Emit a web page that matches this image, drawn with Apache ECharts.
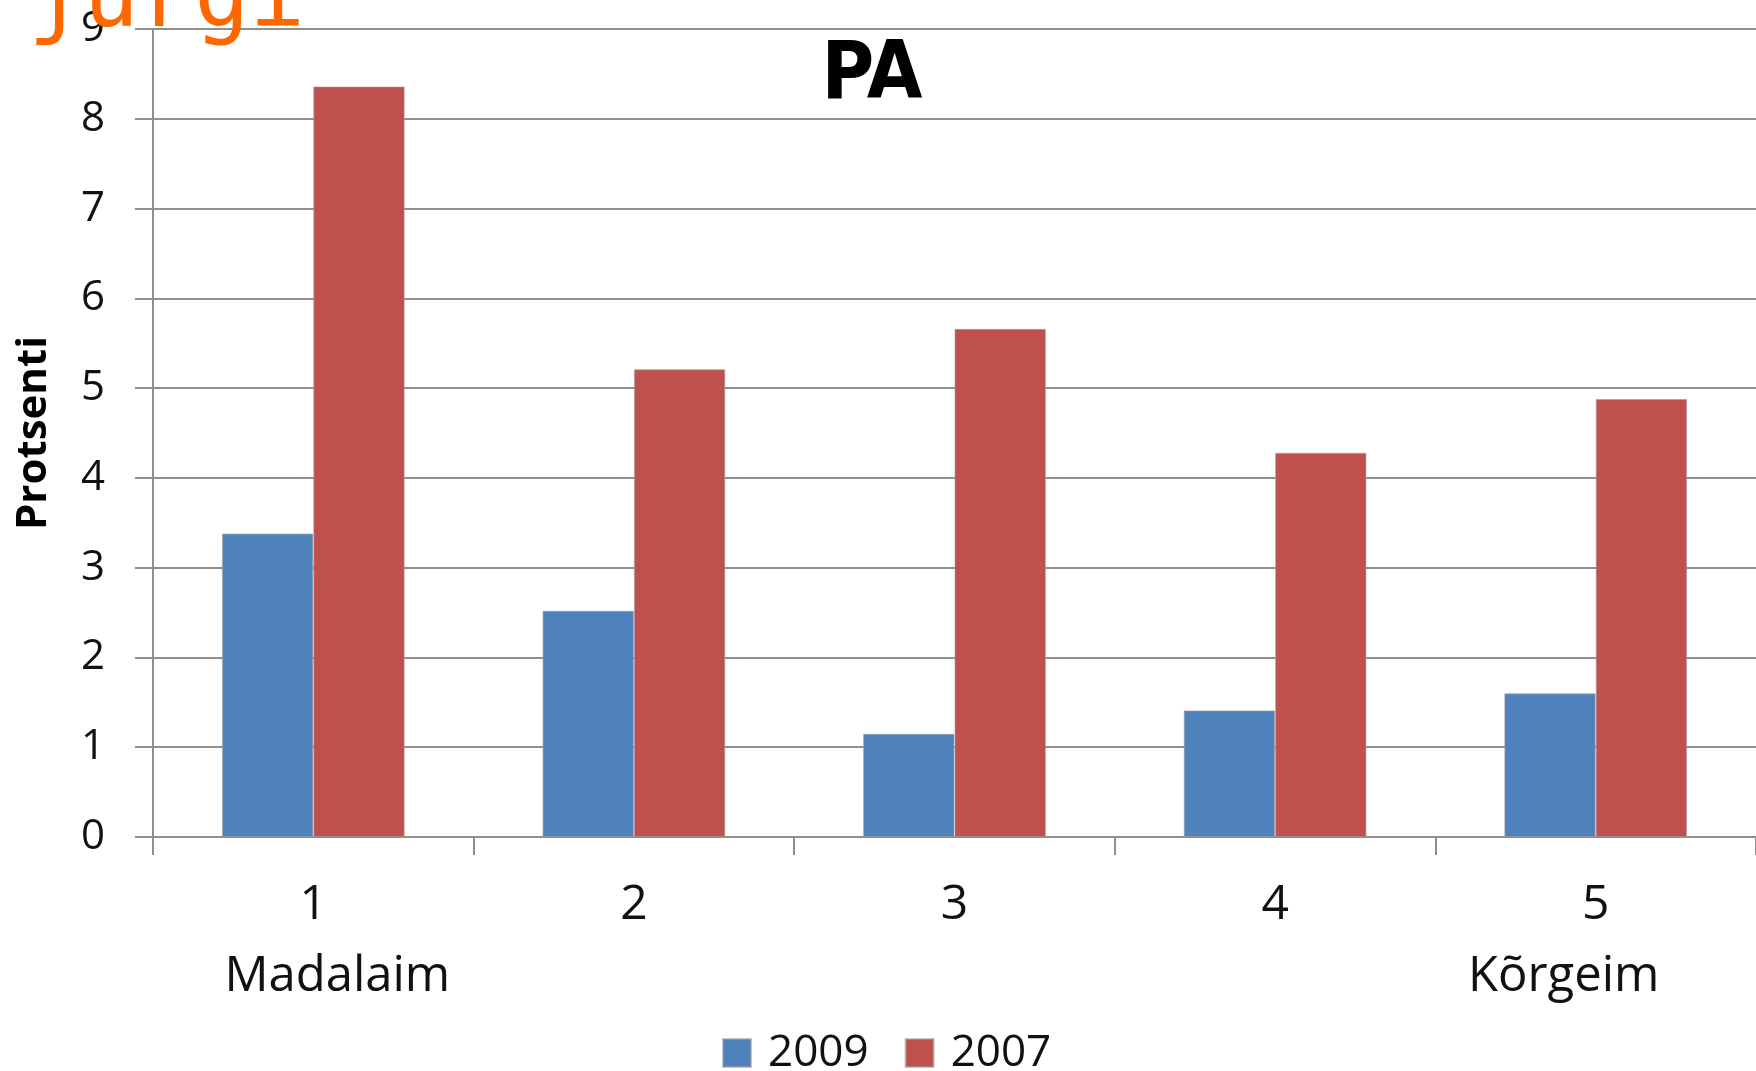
<!DOCTYPE html>
<html>
<head>
<meta charset="utf-8">
<script src="https://cdn.jsdelivr.net/npm/echarts@6/dist/echarts.min.js"></script>
<style>
  html, body { margin: 0; padding: 0; background: #fff; }
  #chart { width: 1756px; height: 1071px; }
</style>
</head>
<body>
<div id="chart"></div>
<script>
const categories = ["1", "2", "3", "4", "5"];
const bottomNotes = ["Madalaim", "", "", "", "Kõrgeim"];
const values2009 = [3.38, 2.52, 1.15, 1.41, 1.6];
const values2007 = [8.36, 5.21, 5.66, 4.28, 4.88];
const yTicks = [0, 1, 2, 3, 4, 5, 6, 7, 8, 9];

const gridColor = "#8e8e8e";
const labelFont = "'Open Sans', 'Noto Sans', sans-serif";

let chart = echarts.init(document.getElementById("chart"));

const option = {
  animation: false,
  title: {
    text: "PA",
    left: 867,
    top: 32,
    textAlign: "center",
    textStyle: {
      fontFamily: "'DejaVu Sans Condensed', 'Liberation Sans', sans-serif",
      fontWeight: "bold",
      fontSize: 80,
      color: "#000",
    },
  },
  graphic: [
    {
      type: "text",
      left: 28,
      top: -44,
      z: 100,
      style: {
        text: "jürgi",
        font: "92px 'DejaVu Sans Mono'",
        fill: "#FF6600",
      },
    },
  ],
  legend: {
    data: ["2009", "2007"],
    left: 717,
    top: 1026,
    itemWidth: 28,
    itemHeight: 28,
    itemGap: 36,
    icon: "rect",
    textStyle: {
      fontFamily: labelFont,
      fontSize: 44,
      color: "#111",
      padding: [0, 0, 0, 12],
    },
  },
  grid: {
    left: 153,
    right: -3,
    top: 29,
    bottom: 234,
    containLabel: false,
  },
  xAxis: {
    type: "category",
    data: categories,
    axisLine: { lineStyle: { color: gridColor, width: 2 } },
    axisTick: { show: true, interval: 0, length: 18, lineStyle: { color: gridColor, width: 2 } },
    axisLabel: {
      interval: 0,
      margin: 32,
      color: "#111",
      fontFamily: labelFont,
      fontSize: 48,
      lineHeight: 72,
      formatter: (val, idx) => {
        const note = bottomNotes[idx];
        if (!note) return val;
        return val + "\n{" + (idx === 0 ? "l" : "r") + "|" + note + "}";
      },
      rich: {
        l: { fontFamily: labelFont, fontSize: 49, lineHeight: 72, color: "#111", padding: [0, 0, 0, 48] },
        r: { fontFamily: labelFont, fontSize: 49, lineHeight: 72, color: "#111", padding: [0, 64, 0, 0] },
      },
    },
  },
  yAxis: {
    type: "value",
    min: yTicks[0],
    max: yTicks[yTicks.length - 1],
    interval: 1,
    name: "Protsenti",
    nameLocation: "middle",
    nameRotate: 90,
    nameGap: 98,
    nameTextStyle: {
      fontFamily: labelFont,
      fontWeight: "bold",
      fontSize: 42,
      color: "#000",
    },
    axisLine: { show: true, lineStyle: { color: gridColor, width: 2 } },
    axisTick: { show: true, length: 18, lineStyle: { color: gridColor, width: 2 } },
    axisLabel: {
      margin: 48,
      color: "#111",
      fontFamily: labelFont,
      fontSize: 42,
    },
    splitLine: { show: true, lineStyle: { color: gridColor, width: 2 } },
  },
  series: [
    {
      name: "2009",
      type: "bar",
      data: values2009,
      barGap: "0%",
      barCategoryGap: "43%",
      itemStyle: { color: "#4F81BD", borderColor: "rgba(160,160,160,0.6)", borderWidth: 1 },
    },
    {
      name: "2007",
      type: "bar",
      data: values2007,
      itemStyle: { color: "#C0504D", borderColor: "rgba(160,160,160,0.6)", borderWidth: 1 },
    },
  ],
};

chart.setOption(option);
</script>
</body>
</html>
